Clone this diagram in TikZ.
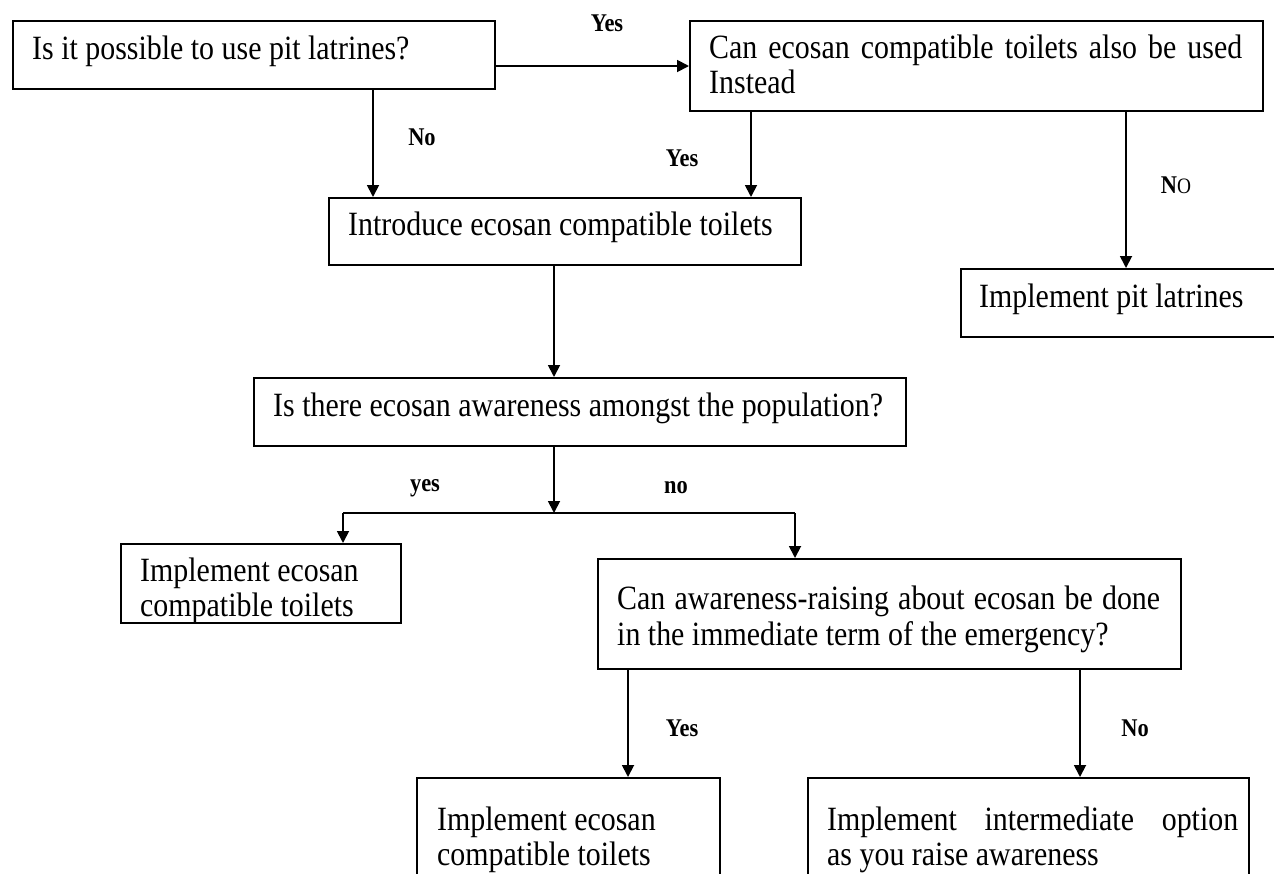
\documentclass[tikz,border=0pt]{standalone}
\usepackage{fontspec}
\setmainfont{Liberation Serif}[FakeStretch=0.88]
\usetikzlibrary{arrows.meta}
\begin{document}
\begin{tikzpicture}[x=1pt,y=-1pt,
  box/.style={draw, line width=2pt, anchor=north west, inner sep=0pt},
  txt/.style={anchor=base west, inner sep=0pt, font=\fontsize{34}{35}\selectfont},
  lbl/.style={anchor=center, inner sep=0pt, font=\fontsize{25.5}{26}\selectfont\bfseries},
  arr/.style={line width=1.8pt, -{Triangle[length=12pt,width=12pt]}},
  ln/.style={line width=1.8pt}]
\path[use as bounding box, clip] (0,0) rectangle (1274,873);
% boxes
\node[box, minimum width=482pt, minimum height=68pt] (b1) at (12,20) {};
\node[box, minimum width=573pt, minimum height=90pt] (b2) at (689,20) {};
\node[box, minimum width=472pt, minimum height=67pt] (b3) at (328,197) {};
\node[box, minimum width=340pt, minimum height=68pt] (pit) at (960,268) {};
\node[box, minimum width=652pt, minimum height=68pt] (b4) at (253,377) {};
\node[box, minimum width=280pt, minimum height=79pt] (b5) at (120,543) {};
\node[box, minimum width=583pt, minimum height=110pt] (b6) at (597,558) {};
\node[box, minimum width=303pt, minimum height=200pt] (b7) at (416,777) {};
\node[box, minimum width=441pt, minimum height=200pt] (b8) at (807,777) {};
% texts
\node[txt] (t1) at (32,59) {Is it possible to use pit latrines?};
\node[txt] (t2a) at (709,58) {\makebox[533pt][s]{Can ecosan compatible toilets also be used}};
\node[txt] (t2b) at (709,93) {Instead};
\node[txt] (t3) at (348,235) {Introduce ecosan compatible toilets};
\node[txt] (tp) at (979,307) {Implement pit latrines};
\node[txt] (t4) at (273,416) {Is there ecosan awareness amongst the population?};
\node[txt] (t5a) at (140,581) {Implement ecosan};
\node[txt] (t5b) at (140,616) {compatible toilets};
\node[txt] (t6a) at (617,609) {\makebox[543pt][s]{Can awareness-raising about ecosan be done}};
\node[txt] (t6b) at (617,645) {in the immediate term of the emergency?};
\node[txt] (t7a) at (437,830) {Implement ecosan};
\node[txt] (t7b) at (437,865) {compatible toilets};
\node[txt] (t8a) at (827,830) {\makebox[411pt][s]{Implement intermediate option}};
\node[txt] (t8b) at (827,865) {as you raise awareness};
% connector columns
\coordinate (c1) at (373,0);
\coordinate (c2) at (751,0);
\coordinate (c3) at (1126,0);
\coordinate (c4) at (554,0);
\coordinate (c5) at (628,0);
\coordinate (c6) at (1080,0);
\coordinate (sl) at (343,513);
\coordinate (sr) at (795,513);
% connectors
\draw[arr] (b1.east |- b2.west) -- (b2.west);
\draw[arr] (b1.south -| c1) -- (b3.north -| c1);
\draw[arr] (b2.south -| c2) -- (b3.north -| c2);
\draw[arr] (b2.south -| c3) -- (pit.north -| c3);
\draw[arr] (b3.south -| c4) -- (b4.north -| c4);
\draw[arr] (b4.south -| c4) -- (c4 |- sl);
\draw[ln] (sl) -- (sr);
\draw[arr] (sl) -- (sl |- b5.north);
\draw[arr] (sr) -- (sr |- b6.north);
\draw[arr] (b6.south -| c5) -- (b7.north -| c5);
\draw[arr] (b6.south -| c6) -- (b8.north -| c6);
% labels
\node[lbl] (l1) at (607,23) {Yes};
\node[lbl] (l2) at (422,137) {No};
\node[lbl] (l3) at (682,158) {Yes};
\node[lbl] (l4) at (1176,185) {N{\mdseries\fontsize{22}{22}\selectfont O}};
\node[lbl] (l5) at (425,488) {yes};
\node[lbl] (l6) at (676,488) {no};
\node[lbl] (l7) at (682,728) {Yes};
\node[lbl] (l8) at (1135,728) {No};
\end{tikzpicture}
\end{document}
